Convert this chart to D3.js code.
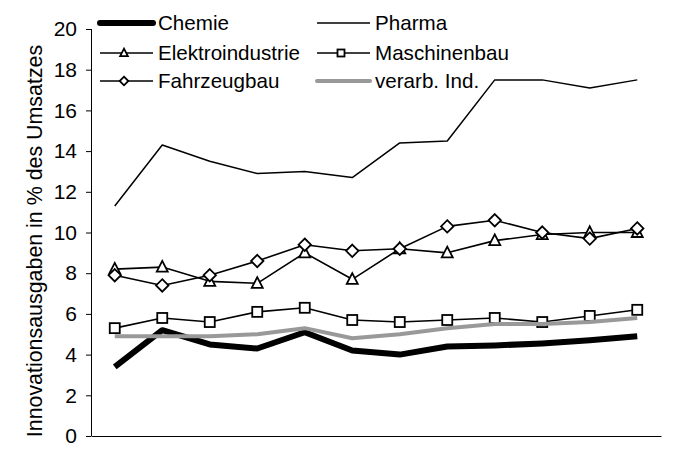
<!DOCTYPE html>
<html>
<head>
<meta charset="utf-8" />
<script src="https://cdnjs.cloudflare.com/ajax/libs/d3/7.8.5/d3.min.js"></script>
<style>
  body { margin: 0; background: #fff; }
  svg text { font-family: "Liberation Sans", Arial, sans-serif; fill: #000; }
</style>
</head>
<body>
<div id="chart"></div>
<script>
    // 12 periods, no labels shown on the x axis
    const periods = ['1', '2', '3', '4', '5', '6', '7', '8', '9', '10', '11', '12']
    const yTicks = [0, 2, 4, 6, 8, 10, 12, 14, 16, 18, 20]

    const chemie    = [3.4, 5.2, 4.5, 4.3, 5.1, 4.2, 4.0, 4.4, 4.45, 4.55, 4.7, 4.9]
    const pharma    = [11.3, 14.3, 13.5, 12.9, 13.0, 12.7, 14.4, 14.5, 17.5, 17.5, 17.1, 17.5]
    const elektro   = [8.2, 8.3, 7.6, 7.5, 9.0, 7.7, 9.2, 9.0, 9.6, 9.9, 10.0, 10.0]
    const maschinen = [5.3, 5.8, 5.6, 6.1, 6.3, 5.7, 5.6, 5.7, 5.8, 5.6, 5.9, 6.2]
    const fahrzeug  = [7.9, 7.4, 7.9, 8.6, 9.4, 9.1, 9.2, 10.3, 10.6, 10.0, 9.7, 10.2]
    const verarb    = [4.9, 4.9, 4.9, 5.0, 5.3, 4.8, 5.0, 5.3, 5.5, 5.5, 5.6, 5.8]

    const series = [
        { name: 'Chemie', values: chemie, color: '#000', width: 6, marker: null },
        { name: 'Pharma', values: pharma, color: '#000', width: 1.5, marker: null },
        { name: 'Elektroindustrie', values: elektro, color: '#000', width: 1.6, marker: 'triangle' },
        { name: 'Maschinenbau', values: maschinen, color: '#000', width: 1.6, marker: 'square' },
        { name: 'Fahrzeugbau', values: fahrzeug, color: '#000', width: 1.6, marker: 'diamond' },
        { name: 'verarb. Ind.', values: verarb, color: '#999', width: 4, marker: null },
    ]

    const width = 686, height = 454
    const svg = d3.select('#chart').append('svg')
        .attr('width', width)
        .attr('height', height)

    const x = d3.scaleBand()
        .domain(periods)
        .range([91, 661])
    const y = d3.scaleLinear()
        .domain([0, 20])
        .range([436, 29])

    // y axis
    const yAxis = svg.append('g')
        .attr('transform', 'translate(91,0)')
        .call(d3.axisLeft(y).tickValues(yTicks).tickSize(5).tickPadding(9))
    yAxis.select('.domain').attr('stroke', '#000').attr('d', 'M0.5,436V29')
    yAxis.selectAll('.tick line').attr('stroke', '#000')
    yAxis.selectAll('.tick text')
        .style('font-size', '21px')
        .attr('font-family', null)

    // x axis, line only
    const xAxis = svg.append('g')
        .attr('transform', 'translate(0,436)')
        .call(d3.axisBottom(x).tickSize(0).tickFormat(''))
    xAxis.select('.domain').attr('stroke', '#000')
    xAxis.selectAll('.tick').remove()

    svg.append('text')
        .attr('transform', 'translate(41.5,241) rotate(-90)')
        .attr('text-anchor', 'middle')
        .style('font-size', '21.4px')
        .text('Innovationsausgaben in % des Umsatzes')

    const line = d3.line()
        .x(function(d, i) { return x(periods[i]) + x.bandwidth() / 2 })
        .y(function(d) { return y(d) })

    function drawMarker(g, type, cx, cy, s) {
        if (type === 'triangle') {
            g.append('path')
                .attr('d', 'M0,' + (-s * 0.62) + 'L' + (s * 0.55) + ',' + (s * 0.45) + 'L' + (-s * 0.55) + ',' + (s * 0.45) + 'Z')
                .attr('transform', 'translate(' + cx + ',' + cy + ')')
                .attr('fill', '#fff').attr('stroke', '#000').attr('stroke-width', 1.8)
        } else if (type === 'square') {
            g.append('rect')
                .attr('x', cx - s / 2).attr('y', cy - s / 2)
                .attr('width', s).attr('height', s)
                .attr('fill', '#fff').attr('stroke', '#000').attr('stroke-width', 1.8)
        } else if (type === 'diamond') {
            const h = s * 0.62
            g.append('path')
                .attr('d', 'M0,' + (-h) + 'L' + h + ',0L0,' + h + 'L' + (-h) + ',0Z')
                .attr('transform', 'translate(' + cx + ',' + cy + ')')
                .attr('fill', '#fff').attr('stroke', '#000').attr('stroke-width', 1.8)
        }
    }

    series.forEach(function(s) {
        const g = svg.append('g')
        g.append('path')
            .datum(s.values)
            .attr('d', line)
            .attr('fill', 'none')
            .attr('stroke', s.color)
            .attr('stroke-width', s.width)
            .attr('stroke-linejoin', 'round')
        if (s.marker) {
            s.values.forEach(function(v, i) {
                drawMarker(g, s.marker, x(periods[i]) + x.bandwidth() / 2, y(v), 10)
            })
        }
    })

    // legend, two columns
    const legendPos = [
        [100, 23], [317, 23],
        [100, 53], [317, 53],
        [100, 81], [317, 81],
    ]
    series.forEach(function(s, i) {
        const lx = legendPos[i][0], ly = legendPos[i][1]
        const g = svg.append('g')
        g.append('line')
            .attr('x1', lx).attr('x2', lx + 53)
            .attr('y1', ly).attr('y2', ly)
            .attr('stroke', s.color)
            .attr('stroke-width', s.marker ? 1.6 : s.width)
            .attr('stroke-linecap', s.width > 3 ? 'round' : 'butt')
        if (s.marker) drawMarker(g, s.marker, lx + 24, ly, 7)
        g.append('text')
            .attr('x', lx + 58)
            .attr('y', ly)
            .attr('dy', '0.35em')
            .style('font-size', '20.6px')
            .text(s.name)
    })
</script>
</body>
</html>
